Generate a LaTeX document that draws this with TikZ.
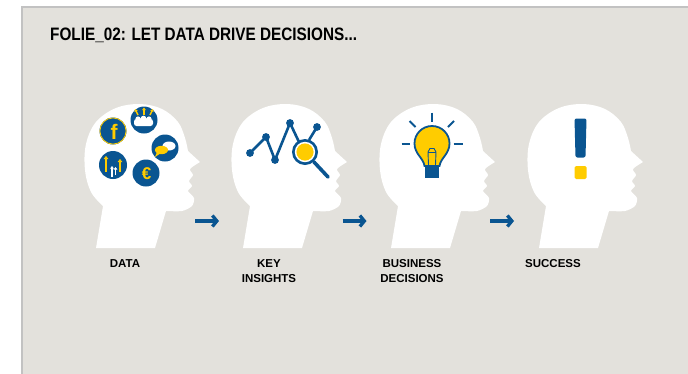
\documentclass[tikz,border=0pt]{standalone}
\usepackage{graphicx}
\usepackage{fontspec}
\setmainfont{Liberation Sans}
\usetikzlibrary{arrows.meta}

\definecolor{panelgray}{HTML}{E3E1DC}
\definecolor{framegray}{HTML}{C2C2C2}
\definecolor{brandblue}{HTML}{0A5591}
\definecolor{brandyellow}{HTML}{FFCC00}

\tikzset{
  head/.pic={
    \fill[white] (-104,86) -- (-97,44)
      -- plot[smooth,tension=0.6] coordinates {(-97,44) (-109,30) (-115,8) (-114,-18) (-104,-40) (-84,-54) (-60,-58) (-38,-53) (-22,-40) (-15,-24) (-12,-11)}
      -- (0,0)
      -- plot[smooth,tension=0.45] coordinates {(0,0) (-10,7) (-7,13) (-11,19) (-8,24) (-12,29) (-6,36) (-8,44) (-18,49) (-34,49)}
      -- (-45,86) -- cycle;
  },
  flowarrow/.style={brandblue, line width=3.3pt, -{Straight Barb[length=4.5pt,width=11pt]}},
  caption/.style={font=\bfseries\fontsize{11.5}{15}\selectfont, align=center, anchor=north, inner sep=0pt},
  badge/.style={fill=brandblue},
  chart/.style={brandblue, line width=2.6pt, line join=round},
  ray/.style={brandblue, line width=2pt},
}

\begin{document}
\begin{tikzpicture}[x=1pt,y=-1pt]
\useasboundingbox (0,0) rectangle (688,373);
\fill[white] (0,0) rectangle (688,373);
% slide panel
\fill[panelgray] (22,7) rectangle (690,375);
\draw[framegray, line width=1.5pt] (22,375) -- (22,7) -- (690,7);

\node[anchor=base west, inner sep=0pt, font=\bfseries\fontsize{18}{18}\selectfont] (title) at (50,40.5)
  {\scalebox{0.85}[1]{FOLIE\_02: LET DATA DRIVE DECISIONS...}};

% head silhouettes
\pic at (200,162) {head};
\pic at (347,162) {head};
\pic at (495,162) {head};
\pic at (643,162) {head};

% ---- data: five round badges
\fill[badge] (113,131) circle (13.5);
\draw[brandyellow, line width=0.8pt] (113,131) circle (13.1);
\node[text=brandyellow, font=\bfseries\fontsize{21}{21}\selectfont, inner sep=0pt] (fb) at (114,132) {f};

\fill[badge] (144,120) circle (13.5);
\fill[white, rounded corners=2.5pt] (134,119) -- (153,119) -- (153,126) -- (134,126) -- cycle;
\fill[white] (138,119) circle (2.6) (143.5,118.5) circle (2.8) (149,119) circle (2.6);
\draw[brandyellow, line width=1.4pt, -{Triangle[length=2.5pt,width=3.5pt]}] (138,115) -- (135,109);
\draw[brandyellow, line width=1.4pt, -{Triangle[length=2.5pt,width=3.5pt]}] (144,114.5) -- (144,107.5);
\draw[brandyellow, line width=1.4pt, -{Triangle[length=2.5pt,width=3.5pt]}] (150,115) -- (153,109);

\fill[badge] (165,148) circle (13.5);
\fill[white] (169,146) ellipse (6.5 and 4.5);
\fill[brandyellow] (161.5,150) ellipse (6.5 and 4.2);
\fill[brandyellow] (157,152) -- (155,157) -- (161,153) -- cycle;

\fill[badge] (113,165) circle (14);
\draw[brandyellow, line width=1.6pt, -{Triangle[length=3pt,width=4.5pt]}] (106,172) -- (106,156);
\draw[brandyellow, line width=1.6pt, -{Triangle[length=3pt,width=4.5pt]}] (120,172) -- (120,159);
\draw[white, line width=1.2pt, -{Triangle[length=2.5pt,width=3.5pt]}] (112,177) -- (112,166);
\draw[white, line width=1.2pt, -{Triangle[length=2.5pt,width=3.5pt]}] (115.5,175) -- (115.5,167);

\fill[badge] (146,173) circle (13.5);
\node[text=brandyellow, font=\bfseries\fontsize{17}{17}\selectfont, inner sep=0pt] (euro) at (146.5,173.5) {€};

% ---- key insights: line chart under a magnifier
\coordinate (d1) at (250,153);
\coordinate (d2) at (266,137);
\coordinate (d3) at (275,160);
\coordinate (d4) at (290,123);
\coordinate (d5) at (317,127);
\coordinate (lens) at (305,152);
\draw[chart] (d1) -- (d2) -- (d3) -- (d4) -- (299,142);
\draw[chart] (309,140) -- (d5);
\foreach \p in {d1,d2,d3,d4,d5} \fill[brandblue] (\p) circle (3.9);
\draw[brandblue, line width=3.6pt, line cap=round] (314,162) -- (328,177);
\fill[brandblue] (lens) circle (13);
\fill[white] (lens) circle (10.2);
\fill[brandyellow] (lens) circle (8.6);

% ---- business decisions: light bulb
\draw[ray] (432,112.5) -- (432,121.5);
\draw[ray] (409.5,121) -- (415.5,127);
\draw[ray] (454,121) -- (448,127);
\draw[ray] (401.5,144) -- (410,144);
\draw[ray] (453.5,144) -- (463,144);
\fill[brandyellow, draw=brandblue, line width=1.8pt]
  (424.5,166) .. controls (423.5,158) and (414.5,154) .. (414.5,143.5)
  .. controls (414.5,133.8) and (422.3,126) .. (432,126)
  .. controls (441.7,126) and (449.5,133.8) .. (449.5,143.5)
  .. controls (449.5,154) and (440.5,158) .. (439.5,166) -- cycle;
\draw[brandblue, line width=0.9pt] (428.5,165) -- (428,152) -- (430,148.5) -- (434,148.5) -- (436,152) -- (435.5,165);
\draw[brandblue, line width=0.9pt] (428,152) -- (436,152);
\fill[brandblue] (425,165) rectangle (439,178);

% ---- success: exclamation mark
\fill[brandblue, rounded corners=2pt] (574.5,118.5) -- (586.5,118.5) -- (585.5,157.5) -- (575.5,157.5) -- cycle;
\fill[brandyellow, rounded corners=1.5pt] (574.5,166) rectangle (586.5,179);

% ---- flow arrows between the heads
\coordinate (a1s) at (195,221);
\coordinate (a1e) at (219,221);
\coordinate (a2s) at (342.5,221);
\coordinate (a2e) at (366.5,221);
\coordinate (a3s) at (490,221);
\coordinate (a3e) at (514,221);
\draw[flowarrow] (a1s) -- (a1e);
\draw[flowarrow] (a2s) -- (a2e);
\draw[flowarrow] (a3s) -- (a3e);

% ---- captions
\node[caption] (capdata) at (125,259) {DATA};
\node[caption] (capkey) at (269,259) {KEY\\INSIGHTS};
\node[caption] (capbiz) at (412,259) {BUSINESS\\DECISIONS};
\node[caption] (capsucc) at (553,259) {SUCCESS};
\end{tikzpicture}
\end{document}
